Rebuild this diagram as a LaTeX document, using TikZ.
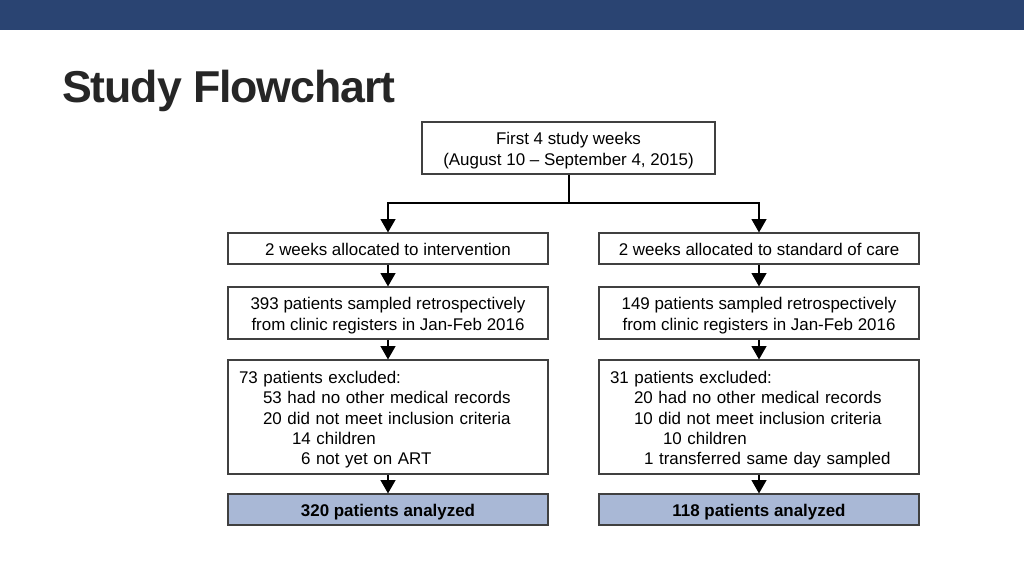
\documentclass[tikz,border=0pt]{standalone}
\usepackage{fontspec}
\setmainfont{Liberation Sans}
\newfontfamily\titlefont[LetterSpace=-2.5]{Liberation Sans Bold}
\usetikzlibrary{arrows.meta}
\definecolor{topbar}{HTML}{2A4472}
\definecolor{titlegray}{HTML}{262626}
\definecolor{boxline}{HTML}{404040}
\definecolor{resultfill}{HTML}{A9B8D6}
\begin{document}
\begin{tikzpicture}[x=0.75pt,y=-0.75pt,
  box/.style={draw=boxline, line width=0.8pt, fill=white, minimum width=240pt,
    inner sep=0pt, align=center, font=\fontsize{12.7}{15.7}\selectfont},
  boxtext/.style={inner sep=0pt, align=center, font=\fontsize{12.7}{15.7}\selectfont},
  allocbox/.style={box, minimum height=23.25pt,
    execute at begin node={\rule{0pt}{10.8pt}}},
  excl/.style={box, minimum height=85.5pt, inner xsep=8.25pt, text width=223.5pt,
    align=left, font=\fontsize{12.7}{15.2}\selectfont,
    execute at begin node={\rule{0pt}{13.5pt}}},
  result/.style={box, fill=resultfill, minimum height=23.25pt,
    font=\fontsize{12.7}{15.2}\selectfont\bfseries,
    execute at begin node={\rule{0pt}{13.5pt}}},
  conn/.style={draw=black, line width=1.5pt},
  arr/.style={conn, -{Triangle[length=10pt,width=11pt]}}]
\path[fill=white] (0,0) rectangle (1024,576);
\fill[topbar] (0,0) rectangle (1024,30);
\node[anchor=base west, inner sep=0pt, text=titlegray,
  font=\titlefont\fontsize{33.5}{36}\selectfont] (title) at (62,102) {Study Flowchart};

\node[box, minimum width=219.75pt, minimum height=39pt] (top) at (568.5,148) {};
\node[boxtext] (toptext) at ([yshift=-2.25pt]top.center)
  {First 4 study weeks\\(August 10 -- September 4, 2015)};
\coordinate (j) at (568.5,203);

\node[allocbox] (alloc1) at (388,248.5) {2 weeks allocated to intervention};
\node[allocbox] (alloc2) at (759,248.5) {2 weeks allocated to standard of care};

\node[box, minimum height=39pt] (samp1) at (388,313) {};
\node[boxtext] (samp1text) at ([yshift=-2.25pt]samp1.center)
  {393 patients sampled retrospectively\\from clinic registers in Jan-Feb 2016};
\node[box, minimum height=39pt] (samp2) at (759,313) {};
\node[boxtext] (samp2text) at ([yshift=-2.25pt]samp2.center)
  {149 patients sampled retrospectively\\from clinic registers in Jan-Feb 2016};

\node[excl] (excl1) at (388,417) {73 patients excluded:\\
  \hspace*{18pt}53 had no other medical records\\
  \hspace*{18pt}20 did not meet inclusion criteria\\
  \hspace*{39.75pt}14 children\\
  \hspace*{46.5pt}6 not yet on ART};
\node[excl] (excl2) at (759,417) {31 patients excluded:\\
  \hspace*{18pt}20 had no other medical records\\
  \hspace*{18pt}10 did not meet inclusion criteria\\
  \hspace*{39.75pt}10 children\\
  \hspace*{25.5pt}1 transferred same day sampled};

\node[result] (res1) at (388,509.5) {320 patients analyzed};
\node[result] (res2) at (759,509.5) {118 patients analyzed};

\draw[conn] (top.south) -- (j);
\draw[arr] (j) -| (alloc1.north);
\draw[arr] (j) -| (alloc2.north);
\draw[arr] (alloc1.south) -- (samp1.north);
\draw[arr] (alloc2.south) -- (samp2.north);
\draw[arr] (samp1.south) -- (excl1.north);
\draw[arr] (samp2.south) -- (excl2.north);
\draw[arr] (excl1.south) -- (res1.north);
\draw[arr] (excl2.south) -- (res2.north);
\end{tikzpicture}
\end{document}
